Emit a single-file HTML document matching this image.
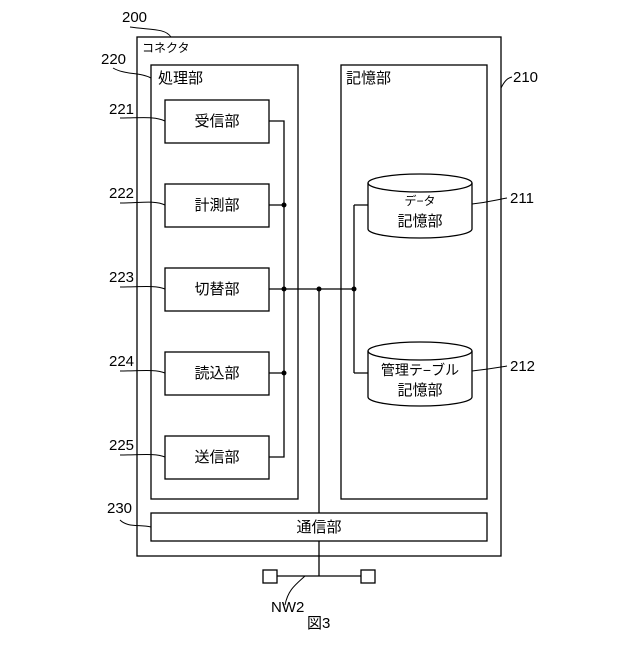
<!DOCTYPE html>
<html><head><meta charset="utf-8"><style>body{margin:0;background:#fff}</style></head><body>
<svg width="640" height="640" viewBox="0 0 640 640" xmlns="http://www.w3.org/2000/svg" font-family="'Liberation Sans','Noto Sans CJK JP',sans-serif" fill="none" stroke="#000" stroke-width="1.3">
<rect x="137" y="37" width="364" height="519"/>
<rect x="151" y="65" width="147" height="434"/>
<rect x="341" y="65" width="146" height="434"/>
<rect x="165" y="100" width="104" height="43"/>
<rect x="165" y="184" width="104" height="43"/>
<rect x="165" y="268" width="104" height="43"/>
<rect x="165" y="352" width="104" height="43"/>
<rect x="165" y="436" width="104" height="43"/>
<rect x="151" y="513" width="336" height="28"/>
<path d="M269 121H284V457H269M269 205H284M269 373H284M269 289H354M354 205V373M354 205H368M354 373H368M319 289V513M319 541V576M277 576H361"/>
<rect x="263" y="570" width="14" height="13"/>
<rect x="361" y="570" width="14" height="13"/>
<path d="M368 183V229A52 9 0 0 0 472 229V183"/>
<ellipse cx="420" cy="183" rx="52" ry="9"/>
<path d="M368 351V397A52 9 0 0 0 472 397V351"/>
<ellipse cx="420" cy="351" rx="52" ry="9"/>
<g stroke-width="1">
<path d="M130 27C150 30 165 28 171 37"/>
<path d="M113 68C125 75 140 72 151 78"/>
<path d="M120 118C140 118 155 116 165 121"/>
<path d="M120 203C140 203 155 200 165 205"/>
<path d="M120 287C140 287 155 285 165 289"/>
<path d="M120 371C140 371 155 369 165 373"/>
<path d="M120 455C140 455 155 453 165 457"/>
<path d="M120 520C128 528 140 524 151 527"/>
<path d="M472 204C490 202 495 200 507 198"/>
<path d="M472 371C490 369 495 368 507 366"/>
<path d="M501 88C505 80 508 78 512 77"/>
<path d="M285 605C288 590 295 585 305 576"/>
</g>
<g fill="#000" stroke="none">
<circle cx="284" cy="205" r="2.5"/><circle cx="284" cy="289" r="2.5"/><circle cx="284" cy="373" r="2.5"/>
<circle cx="319" cy="289" r="2.5"/><circle cx="354" cy="289" r="2.5"/>
<g font-size="15">
<text x="122" y="22">200</text><text x="101" y="64">220</text><text x="513" y="82">210</text>
<text x="109" y="114">221</text><text x="109" y="198">222</text><text x="109" y="282">223</text>
<text x="109" y="366">224</text><text x="109" y="450">225</text><text x="107" y="513">230</text>
<text x="510" y="203">211</text><text x="510" y="371">212</text>
<text x="271" y="612">NW2</text><text x="307" y="628">図3</text>
</g>
<g font-size="15" text-anchor="middle">
<text x="217" y="126">受信部</text><text x="217" y="210">計測部</text><text x="217" y="294">切替部</text>
<text x="217" y="378">読込部</text><text x="217" y="462">送信部</text><text x="319" y="532">通信部</text>
<text x="420" y="205" font-size="12">デ−タ</text><text x="420" y="226">記憶部</text>
<text x="420" y="375" font-size="14">管理テ−ブル</text><text x="420" y="395">記憶部</text>
</g>
<text x="142" y="52" font-size="12">コネクタ</text>
<text x="158" y="83" font-size="15">処理部</text>
<text x="346" y="83" font-size="15">記憶部</text>
</g>
</svg>
</body></html>
